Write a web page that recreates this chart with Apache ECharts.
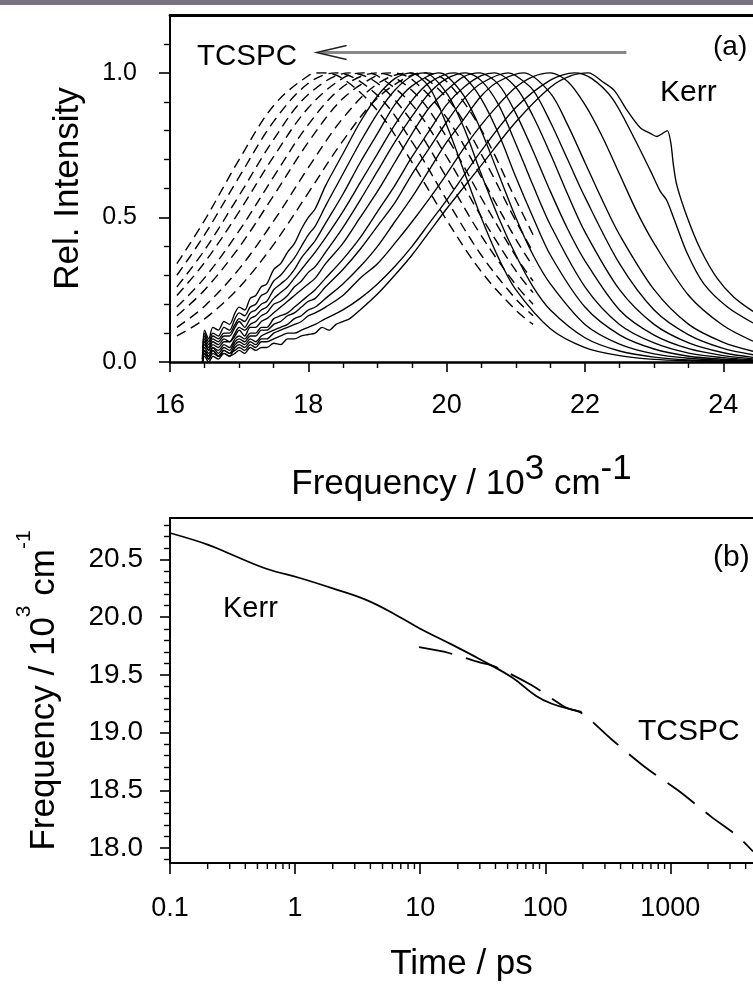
<!DOCTYPE html>
<html><head><meta charset="utf-8">
<script src="https://cdn.jsdelivr.net/npm/echarts@6/dist/echarts.min.js"></script>
<style>html,body{margin:0;padding:0;background:#fff;}#c{width:753px;height:990px;}</style>
</head><body><div id="c"></div>
<script>
// ---------- Panel (a): TCSPC spectra (dashed), [frequency /10^3 cm-1, rel. intensity]
const tcspc1 = [[16.1,0.34],[16.5,0.49],[17,0.70],[17.5,0.887],[18,0.99],[18.2,1.0],[18.5,0.98],[19,0.869],[19.5,0.69],[20,0.491],[20.5,0.313],[21,0.179],[21.25,0.13]];
const tcspc2 = [[16.1,0.30],[16.5,0.44],[17,0.64],[17.5,0.832],[18,0.964],[18.4,1.0],[19,0.922],[19.5,0.761],[20,0.561],[20.5,0.37],[21,0.218],[21.25,0.16]];
const tcspc3 = [[16.1,0.26],[16.5,0.387],[17,0.576],[17.5,0.77],[18,0.925],[18.6,1.0],[19,0.964],[19.5,0.831],[20,0.638],[20.5,0.437],[21,0.267],[21.25,0.20]];
const tcspc4 = [[16.1,0.23],[16.5,0.344],[17,0.52],[17.5,0.711],[18,0.879],[18.5,0.982],[18.8,1.0],[19,0.99],[19.5,0.89],[20,0.71],[20.5,0.503],[21,0.316],[21.25,0.24]];
const tcspc5 = [[16.1,0.19],[16.5,0.291],[17,0.454],[17.5,0.641],[18,0.821],[18.5,0.952],[19,1.0],[19.5,0.939],[20,0.778],[20.5,0.568],[21,0.366],[21.25,0.28]];
const tcspc6 = [[16.1,0.16],[16.5,0.249],[17,0.397],[17.5,0.576],[18,0.76],[18.5,0.911],[19,0.992],[19.2,1.0],[19.5,0.977],[20,0.845],[20.5,0.64],[21,0.425],[21.25,0.33]];
const tcspc7 = [[16.1,0.12],[16.5,0.193],[17,0.322],[17.5,0.488],[18,0.672],[18.5,0.843],[19,0.962],[19.45,1.0],[20,0.914],[20.5,0.719],[21,0.488],[21.25,0.38]];
const tcspc8 = [[16.1,0.09],[16.5,0.149],[17,0.258],[17.5,0.407],[18,0.585],[18.5,0.765],[19,0.913],[19.5,0.993],[19.7,1.0],[20,0.97],[20.5,0.804],[21,0.561],[21.25,0.44]];

// ---------- Panel (a): Kerr spectra (solid)
const kerr1 = [[16.47,0.02],[16.5,0.11],[16.56,0.08],[16.62,0.12],[16.7,0.11],[16.78,0.14],[16.86,0.13],[16.94,0.17],[17.0,0.19],[17.08,0.18],[17.16,0.22],[17.24,0.23],[17.32,0.26],[17.4,0.27],[17.5,0.32],[17.6,0.34],[17.7,0.38],[17.8,0.41],[17.9,0.46],[18.0,0.50],[18.1,0.53],[18.25,0.61],[18.5,0.72],[18.75,0.83],[19.0,0.92],[19.25,0.98],[19.48,1.0],[19.75,0.95],[20.0,0.82],[20.25,0.66],[20.5,0.50],[20.75,0.36],[21.0,0.25],[21.5,0.115],[22.0,0.05],[22.5,0.022],[23.0,0.009],[23.5,0.004],[24.0,0.002],[24.43,0.001]];
const kerr2 = [[16.47,0.01],[16.5,0.10],[16.56,0.07],[16.62,0.10],[16.7,0.09],[16.78,0.12],[16.86,0.11],[16.94,0.15],[17.0,0.17],[17.08,0.16],[17.16,0.19],[17.24,0.20],[17.32,0.23],[17.4,0.24],[17.5,0.28],[17.6,0.30],[17.7,0.33],[17.8,0.36],[17.9,0.40],[18.0,0.44],[18.1,0.47],[18.25,0.54],[18.5,0.65],[18.75,0.76],[19.0,0.86],[19.25,0.94],[19.5,0.99],[19.68,1.0],[20.0,0.93],[20.25,0.81],[20.5,0.65],[20.75,0.50],[21.0,0.37],[21.25,0.26],[21.5,0.18],[22.0,0.084],[22.5,0.038],[23.0,0.017],[23.5,0.007],[24.0,0.003],[24.43,0.001]];
const kerr3 = [[16.47,0.01],[16.5,0.09],[16.56,0.06],[16.62,0.09],[16.7,0.08],[16.78,0.10],[16.86,0.10],[16.94,0.13],[17.0,0.15],[17.08,0.14],[17.16,0.17],[17.24,0.18],[17.32,0.20],[17.4,0.21],[17.5,0.25],[17.6,0.27],[17.7,0.29],[17.8,0.32],[17.9,0.36],[18.0,0.39],[18.1,0.42],[18.25,0.48],[18.5,0.58],[18.75,0.69],[19.0,0.79],[19.25,0.89],[19.5,0.955],[19.89,1.0],[20.0,0.99],[20.25,0.92],[20.5,0.80],[20.75,0.65],[21.0,0.50],[21.25,0.37],[21.5,0.27],[22.0,0.13],[22.5,0.062],[23.0,0.028],[23.5,0.013],[24.0,0.006],[24.43,0.003]];
const kerr4 = [[16.47,0.0],[16.5,0.08],[16.56,0.05],[16.62,0.08],[16.7,0.07],[16.78,0.09],[16.86,0.09],[16.94,0.12],[17.0,0.14],[17.08,0.12],[17.16,0.15],[17.24,0.16],[17.32,0.18],[17.4,0.19],[17.5,0.22],[17.6,0.24],[17.7,0.26],[17.8,0.29],[17.9,0.32],[18.0,0.35],[18.1,0.38],[18.25,0.43],[18.5,0.52],[18.75,0.62],[19.0,0.72],[19.25,0.82],[19.5,0.905],[19.75,0.966],[20.1,1.0],[20.25,0.987],[20.5,0.91],[20.75,0.79],[21.0,0.64],[21.25,0.50],[21.5,0.37],[22.0,0.19],[22.5,0.094],[23.0,0.045],[23.5,0.02],[24.0,0.0095],[24.43,0.005]];
const kerr5 = [[16.47,0.01],[16.5,0.07],[16.56,0.04],[16.62,0.07],[16.7,0.06],[16.78,0.08],[16.86,0.07],[16.94,0.10],[17.0,0.12],[17.08,0.11],[17.16,0.13],[17.24,0.14],[17.32,0.16],[17.4,0.17],[17.5,0.20],[17.6,0.21],[17.7,0.23],[17.8,0.26],[17.9,0.28],[18.0,0.31],[18.1,0.33],[18.25,0.38],[18.5,0.465],[18.75,0.56],[19.0,0.66],[19.25,0.76],[19.5,0.85],[19.75,0.93],[20.0,0.98],[20.28,1.0],[20.5,0.973],[20.75,0.89],[21.0,0.755],[21.25,0.61],[21.5,0.474],[22.0,0.26],[22.5,0.13],[23.0,0.066],[23.5,0.031],[24.0,0.015],[24.43,0.007]];
const kerr6 = [[16.47,0.0],[16.5,0.06],[16.56,0.04],[16.62,0.06],[16.7,0.05],[16.78,0.07],[16.86,0.07],[16.94,0.09],[17.0,0.11],[17.08,0.09],[17.16,0.12],[17.24,0.12],[17.32,0.14],[17.4,0.15],[17.5,0.17],[17.6,0.19],[17.7,0.21],[17.8,0.23],[17.9,0.25],[18.0,0.27],[18.1,0.29],[18.25,0.34],[18.5,0.41],[18.75,0.50],[19.0,0.59],[19.25,0.69],[19.5,0.79],[19.75,0.88],[20.0,0.94],[20.25,0.987],[20.47,1.0],[20.75,0.96],[21.0,0.86],[21.25,0.73],[21.5,0.59],[21.75,0.46],[22.0,0.35],[22.5,0.18],[23.0,0.093],[23.5,0.046],[24.0,0.022],[24.43,0.011]];
const kerr7 = [[16.47,0.01],[16.5,0.05],[16.56,0.03],[16.62,0.05],[16.7,0.04],[16.78,0.06],[16.86,0.05],[16.94,0.08],[17.0,0.09],[17.08,0.08],[17.16,0.10],[17.24,0.10],[17.32,0.12],[17.4,0.12],[17.5,0.15],[17.6,0.16],[17.7,0.17],[17.8,0.19],[17.9,0.21],[18.0,0.23],[18.1,0.25],[18.25,0.29],[18.5,0.355],[18.75,0.43],[19.0,0.52],[19.25,0.61],[19.5,0.71],[19.75,0.80],[20.0,0.89],[20.25,0.95],[20.5,0.99],[20.69,1.0],[21.0,0.95],[21.25,0.85],[21.5,0.72],[21.75,0.58],[22.0,0.45],[22.5,0.25],[23.0,0.13],[23.5,0.066],[24.0,0.032],[24.43,0.016]];
const kerr8 = [[16.47,0.0],[16.5,0.04],[16.56,0.02],[16.62,0.05],[16.7,0.03],[16.78,0.05],[16.86,0.04],[16.94,0.07],[17.0,0.08],[17.08,0.07],[17.16,0.09],[17.24,0.09],[17.32,0.11],[17.4,0.11],[17.5,0.13],[17.6,0.14],[17.7,0.16],[17.8,0.17],[17.9,0.19],[18.0,0.21],[18.1,0.22],[18.25,0.26],[18.5,0.32],[18.75,0.39],[19.0,0.47],[19.25,0.55],[19.5,0.65],[19.75,0.74],[20.0,0.83],[20.25,0.91],[20.5,0.964],[20.89,1.0],[21.0,0.99],[21.25,0.94],[21.5,0.83],[21.75,0.70],[22.0,0.57],[22.5,0.34],[23.0,0.18],[23.5,0.094],[24.0,0.047],[24.43,0.025]];
const kerr9 = [[16.47,0.0],[16.5,0.04],[16.56,0.02],[16.62,0.04],[16.7,0.02],[16.78,0.04],[16.86,0.03],[16.94,0.06],[17.0,0.07],[17.08,0.06],[17.16,0.08],[17.24,0.07],[17.32,0.09],[17.4,0.10],[17.5,0.11],[17.6,0.12],[17.7,0.13],[17.8,0.15],[17.9,0.16],[18.0,0.18],[18.1,0.19],[18.25,0.22],[18.5,0.27],[18.75,0.33],[19.0,0.40],[19.25,0.485],[19.5,0.57],[19.75,0.665],[20.0,0.76],[20.25,0.84],[20.5,0.92],[20.75,0.97],[21.11,1.0],[21.5,0.93],[21.75,0.82],[22.0,0.69],[22.25,0.56],[22.5,0.44],[23.0,0.25],[23.5,0.13],[24.0,0.068],[24.43,0.037]];
const kerr10 = [[16.47,0.0],[16.5,0.03],[16.56,0.01],[16.62,0.04],[16.7,0.02],[16.78,0.03],[16.86,0.02],[16.94,0.05],[17.0,0.06],[17.08,0.05],[17.16,0.07],[17.24,0.06],[17.32,0.08],[17.4,0.08],[17.5,0.10],[17.6,0.11],[17.7,0.12],[17.8,0.13],[17.9,0.14],[18.0,0.16],[18.1,0.17],[18.25,0.19],[18.5,0.23],[18.75,0.29],[19.0,0.34],[19.25,0.41],[19.5,0.485],[19.75,0.565],[20.0,0.65],[20.25,0.74],[20.5,0.82],[20.75,0.89],[21.0,0.95],[21.25,0.987],[21.5,1.0],[21.75,0.97],[22.0,0.89],[22.25,0.78],[22.5,0.65],[22.75,0.52],[23.0,0.41],[23.5,0.23],[24.0,0.126],[24.43,0.072]];
const kerr11 = [[16.47,0.0],[16.5,0.03],[16.56,0.01],[16.62,0.03],[16.7,0.02],[16.78,0.04],[16.86,0.03],[16.94,0.04],[17.0,0.05],[17.08,0.04],[17.16,0.06],[17.24,0.05],[17.32,0.07],[17.4,0.07],[17.5,0.08],[17.6,0.09],[17.7,0.10],[17.8,0.10],[17.9,0.11],[18.0,0.12],[18.1,0.13],[18.25,0.15],[18.5,0.18],[18.75,0.22],[19.0,0.27],[19.25,0.33],[19.5,0.40],[19.75,0.48],[20.0,0.56],[20.5,0.73],[21.0,0.88],[21.5,0.975],[21.85,1.0],[22.1,0.98],[22.4,0.91],[22.7,0.78],[22.95,0.66],[23.09,0.59],[23.18,0.56],[23.28,0.50],[23.48,0.375],[23.72,0.27],[24.06,0.19],[24.43,0.135]];
const kerr12 = [[16.47,0.0],[16.5,0.02],[16.56,0.0],[16.62,0.02],[16.7,0.01],[16.78,0.03],[16.86,0.02],[16.94,0.03],[17.0,0.04],[17.08,0.03],[17.16,0.05],[17.24,0.04],[17.32,0.05],[17.4,0.05],[17.5,0.065],[17.6,0.06],[17.7,0.08],[17.8,0.08],[17.9,0.09],[18.0,0.095],[18.1,0.10],[18.2,0.12],[18.3,0.11],[18.4,0.13],[18.5,0.14],[18.6,0.15],[18.75,0.18],[19.0,0.235],[19.25,0.30],[19.5,0.37],[19.75,0.45],[20.0,0.53],[20.5,0.68],[21.0,0.83],[21.5,0.95],[21.8,0.99],[22.05,1.0],[22.25,0.97],[22.42,0.94],[22.61,0.87],[22.8,0.81],[22.95,0.79],[23.04,0.78],[23.12,0.79],[23.19,0.80],[23.24,0.76],[23.28,0.68],[23.33,0.61],[23.48,0.50],[23.67,0.39],[23.91,0.29],[24.15,0.225],[24.43,0.175]];

// ---------- Panel (b): spectral mean frequency vs time
const kerrTime = [0.1, 0.2, 0.3, 0.59, 1.09, 2.0, 3.7, 6.4, 10, 16, 29.5, 54, 84, 113, 163, 195];
const kerrFreq = [20.73, 20.63, 20.55, 20.42, 20.34, 20.25, 20.15, 20.02, 19.90, 19.79, 19.64, 19.48, 19.32, 19.25, 19.20, 19.18];
const tcspcTime = [9.8, 17, 29.5, 40, 78, 145, 195, 340, 630, 1150, 2130, 3470, 4580];
const tcspcFreq = [19.74, 19.69, 19.61, 19.57, 19.41, 19.22, 19.17, 18.94, 18.70, 18.50, 18.27, 18.10, 17.97];

// ---------- Tick values
const freqTicksA = [16, 18, 20, 22, 24];
const freqMinorA = [16.5, 17, 17.5, 18.5, 19, 19.5, 20.5, 21, 21.5, 22.5, 23, 23.5];
const intenTicksA = [0, 0.5, 1.0];
const intenMinorA = [0.1, 0.2, 0.3, 0.4, 0.6, 0.7, 0.8, 0.9, 1.1];
const freqTicksB = [18.0, 18.5, 19.0, 19.5, 20.0, 20.5];
const freqMinorB = [17.9, 18.1, 18.2, 18.3, 18.4, 18.6, 18.7, 18.8, 18.9, 19.1, 19.2, 19.3, 19.4, 19.6, 19.7, 19.8, 19.9, 20.1, 20.2, 20.3, 20.4, 20.6, 20.7, 20.8];
const timeMinorB = [0.2,0.3,0.4,0.5,0.6,0.7,0.8,0.9, 2,3,4,5,6,7,8,9, 20,30,40,50,60,70,80,90, 200,300,400,500,600,700,800,900, 2000,3000,4000];

const FONT = 'Liberation Sans, Arial, Helvetica, sans-serif';
const chart = echarts.init(document.getElementById('c'), null, {renderer: 'canvas'});

const tcspcSpectra = [tcspc1, tcspc2, tcspc3, tcspc4, tcspc5, tcspc6, tcspc7, tcspc8];
const kerrSpectra = [kerr1, kerr2, kerr3, kerr4, kerr5, kerr6, kerr7, kerr8, kerr9, kerr10, kerr11, kerr12];

const A_X = {min: 16, max: 24.43};
const A_Y = {min: 0, max: 1.2};
const B_X = {min: 0.1, max: 4580};
const B_Y = {min: 17.87, max: 20.86};

const noSplit = {show: false};

const series = [];
tcspcSpectra.forEach(d => series.push({
  type: 'line', xAxisIndex: 0, yAxisIndex: 0, data: d, showSymbol: false, symbol: 'none',
  smooth: 0.35, silent: true, lineStyle: {color: '#000', width: 1.4, type: [10, 6]}
}));
kerrSpectra.forEach(d => series.push({
  type: 'line', xAxisIndex: 0, yAxisIndex: 0, data: d, showSymbol: false, symbol: 'none',
  smooth: 0.3, silent: true, lineStyle: {color: '#000', width: 1.35}
}));
series.push({
  type: 'line', xAxisIndex: 3, yAxisIndex: 2, showSymbol: false, symbol: 'none', smooth: 0.4, silent: true,
  data: kerrTime.map((t, i) => [t, kerrFreq[i]]), lineStyle: {color: '#000', width: 1.8}
});
series.push({
  type: 'line', xAxisIndex: 3, yAxisIndex: 2, showSymbol: false, symbol: 'none', smooth: 0.3, silent: true,
  data: tcspcTime.map((t, i) => [t, tcspcFreq[i]]), lineStyle: {color: '#000', width: 1.8, type: [34, 14]}
});

const titleRich = (supSize, supLH, mainLH) => ({
  m: {fontSize: 35, lineHeight: mainLH, verticalAlign: 'bottom', fontFamily: FONT, color: '#000'},
  s: {fontSize: supSize, lineHeight: supLH, verticalAlign: 'top', fontFamily: FONT, color: '#000'}
});

const option = {
  animation: false,
  backgroundColor: '#fff',
  grid: [
    {left: 170, top: 15, width: 585, height: 347},
    {left: 170, top: 518, width: 585, height: 345}
  ],
  xAxis: [
    { // 0: panel a main
      type: 'value', gridIndex: 0, position: 'bottom', ...A_X,
      axisLine: {show: true, lineStyle: {color: '#000', width: 2.5}},
      axisTick: {show: true, length: 10, customValues: freqTicksA, lineStyle: {color: '#000', width: 1.6}},
      axisLabel: {show: true, customValues: freqTicksA, margin: 30, color: '#000', fontFamily: FONT, fontSize: 27, formatter: v => String(v)},
      splitLine: noSplit,
      name: '{m|Frequency / 10}{s|3}{m| cm}{s|-1}', nameLocation: 'middle', nameGap: 90,
      nameTextStyle: {color: '#000', fontFamily: FONT, rich: titleRich(35, 34, 50)}
    },
    { // 1: panel a minor ticks
      type: 'value', gridIndex: 0, position: 'bottom', ...A_X,
      axisLine: {show: false}, axisLabel: {show: false}, splitLine: noSplit,
      axisTick: {show: true, length: 6, customValues: freqMinorA, lineStyle: {color: '#000', width: 1.4}}
    },
    { // 2: panel a top frame
      type: 'value', gridIndex: 0, position: 'top', ...A_X,
      axisLine: {show: true, lineStyle: {color: '#000', width: 2.8}},
      axisTick: {show: false}, axisLabel: {show: false}, splitLine: noSplit
    },
    { // 3: panel b main (log time)
      type: 'log', logBase: 10, gridIndex: 1, position: 'bottom', ...B_X,
      axisLine: {show: true, lineStyle: {color: '#000', width: 2}},
      axisTick: {show: true, length: 11, lineStyle: {color: '#000', width: 1.6}},
      axisLabel: {show: true, margin: 32, color: '#000', fontFamily: FONT, fontSize: 27, showMaxLabel: false,
        formatter: v => (v >= 1 ? String(Math.round(v)) : String(v))},
      splitLine: noSplit, minorTick: {show: false},
      name: 'Time / ps', nameLocation: 'middle', nameGap: 84,
      nameTextStyle: {color: '#000', fontFamily: FONT, fontSize: 35}
    },
    { // 4: panel b top frame
      type: 'log', logBase: 10, gridIndex: 1, position: 'top', ...B_X,
      axisLine: {show: true, lineStyle: {color: '#000', width: 2}},
      axisTick: {show: false}, axisLabel: {show: false}, splitLine: noSplit
    }
  ],
  yAxis: [
    { // 0: panel a main
      type: 'value', gridIndex: 0, position: 'left', ...A_Y,
      axisLine: {show: true, lineStyle: {color: '#000', width: 2}},
      axisTick: {show: true, length: 11, customValues: intenTicksA, lineStyle: {color: '#000', width: 1.6}},
      axisLabel: {show: true, customValues: intenTicksA, margin: 33, color: '#000', fontFamily: FONT, fontSize: 25, formatter: v => v.toFixed(1)},
      splitLine: noSplit,
      name: 'Rel. Intensity', nameLocation: 'middle', nameGap: 84,
      nameTextStyle: {color: '#000', fontFamily: FONT, fontSize: 35}
    },
    { // 1: panel a minor
      type: 'value', gridIndex: 0, position: 'left', ...A_Y,
      axisLine: {show: false}, axisLabel: {show: false}, splitLine: noSplit,
      axisTick: {show: true, length: 6, customValues: intenMinorA, lineStyle: {color: '#000', width: 1.4}}
    },
    { // 2: panel b main
      type: 'value', gridIndex: 1, position: 'left', ...B_Y,
      axisLine: {show: true, lineStyle: {color: '#000', width: 2}},
      axisTick: {show: true, length: 10, customValues: freqTicksB, lineStyle: {color: '#000', width: 1.6}},
      axisLabel: {show: true, customValues: freqTicksB, margin: 27, color: '#000', fontFamily: FONT, fontSize: 28, formatter: v => v.toFixed(1)},
      splitLine: noSplit,
      name: '{m|Frequency / 10}{s|3}{m| cm}{s|-1}', nameLocation: 'middle', nameGap: 108,
      nameTextStyle: {color: '#000', fontFamily: FONT, rich: titleRich(21, 24, 48)}
    },
    { // 3: panel b minor
      type: 'value', gridIndex: 1, position: 'left', ...B_Y,
      axisLine: {show: false}, axisLabel: {show: false}, splitLine: noSplit,
      axisTick: {show: true, length: 6, customValues: freqMinorB, lineStyle: {color: '#000', width: 1.4}}
    }
  ],
  series: series
};
chart.setOption(option);

// ---------- Annotations
const arrowFrom = [22.6, 1.07];
const arrowTo = [18.12, 1.07];
const txt = (s, x, y, size) => ({
  type: 'text', x: x, y: y, silent: true,
  style: {text: s, fontSize: size, fontFamily: FONT, fill: '#000', align: 'left', verticalAlign: 'middle'}
});
const graphics = [
  {type: 'rect', shape: {x: 0, y: 0, width: 753, height: 5}, style: {fill: '#77737f'}, silent: true},
  txt('TCSPC', 197, 57, 29.5),
  txt('(a)', 713, 47, 28),
  txt('Kerr', 660, 93, 30),
  txt('Kerr', 223, 609, 29),
  txt('TCSPC', 638, 732, 30),
  txt('(b)', 713, 558, 30)
];
const p1 = chart.convertToPixel({gridIndex: 0}, arrowFrom);
const p2 = chart.convertToPixel({gridIndex: 0}, arrowTo);
graphics.push({type: 'line', silent: true, shape: {x1: p1[0], y1: p1[1], x2: p2[0] + 4, y2: p2[1]}, style: {stroke: '#888', lineWidth: 3}});
graphics.push({type: 'polyline', silent: true, shape: {points: [[p2[0] + 30, p2[1] - 7], [p2[0], p2[1]], [p2[0] + 30, p2[1] + 7]]}, style: {stroke: '#222', lineWidth: 1.5, fill: null}});
// log-axis minor ticks (positions from the library's log scale)
const yBottom = chart.convertToPixel({yAxisIndex: 2}, B_Y.min);
timeMinorB.forEach(v => {
  const x = chart.convertToPixel({xAxisIndex: 3}, v);
  graphics.push({type: 'line', silent: true, shape: {x1: x, y1: yBottom, x2: x, y2: yBottom + 6}, style: {stroke: '#000', lineWidth: 1.4}});
});
chart.setOption({graphic: graphics});
</script>
</body></html>
